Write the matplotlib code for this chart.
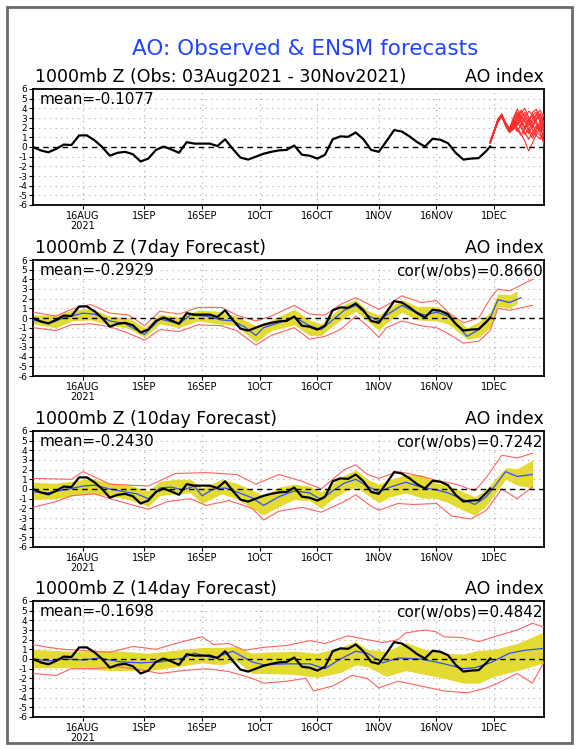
import matplotlib
matplotlib.use("Agg")
import matplotlib.pyplot as plt
import matplotlib.dates as mdates
from matplotlib.patches import Rectangle
from datetime import datetime, timedelta

START = datetime(2021, 8, 3)

# ---------------- data (day offsets from 03Aug2021) ----------------
obs_days = list(range(0, 120, 2)) + [119]
obs_vals = [0.0, -0.35, -0.55, -0.2, 0.25, 0.2, 1.2, 1.2, 0.7, 0.0,
            -0.9, -0.6, -0.5, -0.75, -1.5, -1.2, -0.3, 0.05, -0.25, -0.6,
            0.5, 0.35, 0.35, 0.35, 0.1, 0.8, -0.2, -1.1, -1.3, -1.0,
            -0.7, -0.5, -0.35, -0.3, 0.15, -0.8, -0.9, -1.2, -0.8, 0.8,
            1.1, 1.05, 1.5, 0.8, -0.3, -0.5, 0.6, 1.75, 1.6, 1.1,
            0.5, 0.05, 0.85, 0.75, 0.4, -0.6, -1.3, -1.2, -1.15, -0.4, 0.05]

ens_days = list(range(119, 134))
ens_members = [
    [0.5, 1.6, 2.7, 3.3, 2.3, 1.6, 2.4, 3.2, 3.8, 3.0, 2.2, 2.9, 3.4, 2.6, 1.8],
    [0.4, 1.5, 2.6, 3.2, 2.4, 1.7, 2.8, 3.6, 3.1, 2.0, 1.4, 2.2, 3.0, 3.3, 2.5],
    [0.6, 1.7, 2.8, 3.4, 2.2, 1.5, 2.0, 2.7, 3.5, 4.0, 3.1, 2.3, 1.6, 1.2, 0.6],
    [0.5, 1.5, 2.7, 3.2, 2.5, 1.9, 2.6, 2.0, 1.4, 0.6, -0.4, 0.4, 1.3, 2.0, 2.8],
    [0.4, 1.6, 2.9, 3.3, 2.3, 1.8, 3.0, 3.9, 3.3, 2.7, 1.9, 1.2, 1.9, 2.7, 3.4],
    [0.6, 1.6, 2.7, 3.1, 2.2, 1.6, 2.2, 1.6, 2.3, 3.0, 3.7, 3.4, 2.6, 1.9, 1.1],
    [0.5, 1.7, 2.8, 3.3, 2.4, 1.7, 1.9, 2.6, 2.0, 1.3, 1.8, 2.6, 3.3, 3.8, 3.1],
    [0.5, 1.5, 2.6, 3.2, 2.3, 1.6, 2.5, 3.3, 2.7, 2.0, 2.6, 3.6, 3.9, 3.0, 2.0],
    [0.4, 1.6, 2.8, 3.4, 2.5, 1.8, 2.2, 2.9, 2.3, 1.5, 0.8, 1.5, 2.2, 1.5, 0.3],
    [0.6, 1.6, 2.7, 3.3, 2.4, 1.7, 2.7, 2.2, 3.1, 3.6, 2.8, 2.0, 2.8, 3.5, 2.3],
    [0.5, 1.5, 2.8, 3.2, 2.2, 1.5, 1.8, 2.4, 3.2, 2.6, 1.6, 0.9, 1.7, 2.4, 1.5],
    [0.5, 1.7, 2.7, 3.3, 2.5, 1.9, 2.9, 3.5, 2.6, 1.9, 2.9, 3.2, 2.4, 1.6, 2.2],
    [0.4, 1.6, 2.6, 3.2, 2.3, 1.6, 2.1, 3.0, 3.6, 3.3, 2.5, 1.8, 1.2, 0.8, 1.6],
    [0.6, 1.6, 2.9, 3.4, 2.4, 1.8, 2.5, 1.8, 1.2, 1.9, 2.7, 3.3, 3.6, 2.9, 0.1],
]

# 7-day forecast
f7_mean_days = [0, 4, 8, 13, 16, 20, 24, 29, 33, 38, 41, 45, 49, 52, 55, 58, 60, 64, 68, 72,
                75, 78, 81, 84, 87, 90, 92, 96, 99, 102, 105, 108, 110, 113, 116, 119, 121, 124, 127]
f7_mean = [-0.2, -0.6, 0.0, 0.5, 0.4, -0.3, -0.6, -1.7, -0.1, -0.6, 0.3, 0.2, -0.2, -0.3, -0.9,
           -1.8, -1.0, -0.5, 0.1, -0.8, -1.2, -0.2, 0.8, 1.3, 0.3, -0.3, 0.3, 1.3, 0.7, 0.3,
           0.6, 0.2, -0.6, -1.9, -1.2, 0.0, 1.9, 1.6, 2.1]
f7_band_days = [0, 6, 10, 15, 20, 25, 29, 33, 38, 43, 48, 53, 58, 62, 68, 72, 75, 78, 81, 84,
                87, 90, 92, 96, 100, 105, 108, 113, 116, 119, 121, 124, 126]
f7_band_hi = [0.3, 0.3, 0.8, 1.0, 0.2, 0.0, -1.0, 0.4, 0.1, 0.8, 0.7, 0.2, -0.8, -0.2, 0.9, -0.2,
              -0.6, 0.4, 1.4, 1.9, 0.8, 0.3, 0.9, 1.9, 1.2, 1.2, 0.6, -1.0, -0.4, 0.6, 2.5, 2.4, 2.8]
f7_band_lo = [-0.6, -1.0, -0.3, -0.2, -0.7, -1.1, -2.0, -0.6, -1.0, -0.3, -0.6, -0.8, -2.5, -1.3,
              -0.7, -1.8, -1.8, -0.8, 0.0, 0.7, -0.3, -1.3, -0.5, 0.6, -0.2, -0.3, -0.6, -2.2,
              -2.0, -1.0, 1.2, 1.0, 1.5]
f7_red_days = [0, 6, 10, 15, 20, 25, 29, 33, 38, 43, 49, 53, 58, 62, 68, 72, 76, 80, 84, 87,
               90, 92, 96, 101, 105, 108, 112, 116, 119, 121, 124, 130]
f7_red_hi = [0.6, 0.2, 0.9, 1.4, 0.5, 0.3, -0.8, 0.7, 0.4, 1.1, 1.1, 0.3, -0.3, 0.2, 1.3, 0.4,
             0.3, 1.4, 2.1, 1.5, 0.9, 1.3, 2.3, 1.6, 1.8, 0.6, -0.5, 0.0, 2.0, 3.0, 2.8, 4.0]
f7_red_lo = [-1.0, -1.3, -0.7, -0.6, -0.9, -1.6, -2.3, -1.2, -1.4, -0.7, -0.8, -1.3, -2.8, -1.8,
             -1.0, -2.2, -1.9, -1.2, 0.2, -0.8, -2.0, -1.0, -0.3, -0.8, -1.0, -1.6, -2.6, -2.4,
             -1.3, 1.0, 0.8, 1.3]

# 10-day forecast
f10_mean_days = [0, 4, 8, 13, 16, 20, 24, 27, 30, 33, 36, 39, 42, 44, 47, 50, 53, 57, 60, 64,
                 68, 72, 75, 78, 81, 84, 87, 90, 93, 97, 101, 105, 108, 112, 115, 118, 120, 123, 126, 130]
f10_mean = [-0.3, -0.4, -0.1, 0.3, 0.4, 0.0, -0.3, -0.5, -1.0, 0.1, 0.2, -0.1, 0.3, -0.7, 0.0,
            0.1, -0.3, -0.9, -1.7, -0.8, -0.2, -0.4, -1.1, -0.2, 0.6, 1.0, 0.3, -0.3, 0.2, 0.7,
            0.2, -0.1, -0.4, -1.1, -1.6, -0.8, 0.2, 1.8, 1.3, 1.5]
f10_band_days = [0, 6, 10, 15, 20, 25, 30, 33, 37, 41, 44, 49, 53, 57, 60, 64, 68, 72, 75, 78,
                 81, 84, 87, 90, 93, 97, 101, 105, 108, 112, 115, 118, 120, 123, 126, 130]
f10_band_hi = [0.7, 0.6, 0.8, 1.1, 0.6, 0.4, -0.2, 0.8, 1.0, 1.0, 0.1, 1.0, 0.6, -0.1, -0.7, 0.2,
               0.5, 0.3, -0.3, 0.6, 1.4, 2.0, 1.0, 0.5, 1.0, 1.5, 1.5, 0.6, 0.4, -0.3, -0.8, 0.0,
               0.9, 2.2, 2.1, 3.0]
f10_band_lo = [-1.1, -1.0, -0.7, -0.5, -0.7, -1.1, -1.8, -0.7, -0.5, -0.4, -1.5, -0.5, -1.0, -2.0,
               -2.7, -1.8, -1.1, -1.2, -2.0, -1.0, -0.3, 0.2, -0.6, -1.4, -0.8, -0.4, -0.9, -1.0,
               -1.4, -2.2, -2.7, -1.7, -0.6, 1.0, 0.4, 0.1]
f10_red_hi_days = [0, 10, 13, 20, 30, 37, 45, 53, 58, 64, 70, 75, 81, 84, 87, 90, 95, 99, 105,
                   110, 115, 118, 122, 126, 130]
f10_red_hi = [1.1, 1.0, 1.8, 0.5, 0.3, 1.6, 1.7, 1.5, 0.5, 1.5, 0.8, 0.0, 2.0, 2.5, 1.5, 1.1,
              1.8, 1.5, 0.9, 0.5, -0.2, 1.2, 3.5, 3.2, 3.7]
f10_red_lo_days = [0, 6, 10, 16, 20, 30, 35, 41, 45, 51, 57, 60, 64, 70, 75, 81, 84, 87, 90, 95,
                   99, 105, 109, 114, 118, 122, 126, 130]
f10_red_lo = [-1.9, -1.3, -0.7, -0.5, -1.0, -2.1, -1.3, -1.0, -1.7, -1.2, -2.0, -3.2, -2.3, -1.9,
              -2.4, -1.3, -0.6, -1.5, -2.2, -1.5, -1.6, -1.5, -2.8, -3.1, -2.2, 0.0, -1.0, 0.2]

# 14-day forecast
f14_mean_days = [0, 4, 8, 13, 17, 23, 28, 33, 39, 42, 47, 52, 57, 60, 66, 72, 76, 80, 84, 87,
                 91, 95, 101, 107, 112, 115, 119, 124, 128, 133]
f14_mean = [0.0, -0.2, 0.0, -0.1, 0.1, -0.3, -0.4, -0.3, 0.1, 0.6, 0.1, 0.8, -0.3, -0.6, -0.5,
            -0.5, -1.0, 0.0, 0.8, 0.6, -0.4, 0.1, 0.0, -0.5, -1.0, -0.9, -0.4, 0.6, 0.9, 1.1]
f14_band_days = [0, 10, 20, 30, 39, 44, 49, 53, 57, 60, 68, 74, 80, 84, 87, 92, 97, 102, 107,
                 112, 116, 120, 126, 133]
f14_band_hi = [1.0, 0.8, 0.9, 0.6, 1.0, 1.2, 1.2, 1.3, 0.6, 0.7, 0.8, 0.6, 1.2, 1.8, 1.0, 0.8,
               1.7, 1.0, 0.6, 0.5, 0.9, 1.0, 1.6, 2.8]
f14_band_lo = [-0.9, -0.9, -1.2, -1.2, -0.7, -0.4, -0.6, -0.2, -1.5, -1.5, -1.6, -1.9, -1.4, -0.6,
               -0.8, -1.8, -1.2, -1.6, -2.0, -2.5, -2.5, -1.8, -1.2, -0.4]
f14_red_hi_days = [0, 4, 8, 12, 16, 20, 26, 32, 37, 44, 47, 51, 55, 60, 66, 72, 76, 82, 87, 91,
                   95, 97, 102, 105, 107, 112, 116, 120, 126, 130, 133]
f14_red_hi = [1.5, 1.2, 1.0, 0.9, 0.8, 0.7, 1.3, 1.0, 1.6, 2.3, 1.5, 1.6, 0.9, 1.2, 1.4, 1.9,
              1.6, 2.4, 2.0, 1.7, 2.0, 2.7, 3.0, 2.8, 2.3, 2.2, 1.8, 2.3, 3.0, 3.7, 3.3]
f14_red_lo_days = [0, 6, 10, 16, 22, 28, 33, 39, 45, 51, 57, 60, 66, 71, 73, 78, 83, 87, 90, 95,
                   101, 107, 113, 118, 121, 126, 130, 133]
f14_red_lo = [-1.5, -1.7, -1.0, -1.0, -0.8, -1.1, -1.5, -1.2, -1.0, -1.3, -2.0, -2.5, -2.3, -2.0,
              -3.3, -2.8, -1.7, -2.0, -3.0, -2.3, -2.8, -3.3, -3.5, -3.0, -2.5, -1.5, -2.5, -0.3]

subtitles = ["1000mb Z (Obs: 03Aug2021 - 30Nov2021)", "1000mb Z (7day Forecast)",
             "1000mb Z (10day Forecast)", "1000mb Z (14day Forecast)"]
means = ["mean=-0.1077", "mean=-0.2929", "mean=-0.2430", "mean=-0.1698"]
cors = [None, "cor(w/obs)=0.8660", "cor(w/obs)=0.7242", "cor(w/obs)=0.4842"]
tick_dates = [datetime(2021, 8, 16), datetime(2021, 9, 1), datetime(2021, 9, 16),
              datetime(2021, 10, 1), datetime(2021, 10, 16), datetime(2021, 11, 1),
              datetime(2021, 11, 16), datetime(2021, 12, 1)]
tick_labels = ["16AUG\n2021", "1SEP", "16SEP", "1OCT", "16OCT", "1NOV", "16NOV", "1DEC"]
yticks = list(range(-6, 7))

forecasts = [
    (f7_mean_days, f7_mean, f7_band_days, f7_band_hi, f7_band_lo,
     f7_red_days, f7_red_hi, f7_red_days, f7_red_lo),
    (f10_mean_days, f10_mean, f10_band_days, f10_band_hi, f10_band_lo,
     f10_red_hi_days, f10_red_hi, f10_red_lo_days, f10_red_lo),
    (f14_mean_days, f14_mean, f14_band_days, f14_band_hi, f14_band_lo,
     f14_red_hi_days, f14_red_hi, f14_red_lo_days, f14_red_lo),
]


def to_dates(days):
    return [START + timedelta(days=d) for d in days]


W, H = 579, 750
fig = plt.figure(figsize=(W / 100, H / 100), dpi=100)
fig.patches.append(Rectangle((7 / W, 1 - 743 / H), 565 / W, 736 / H, transform=fig.transFigure,
                             fill=False, edgecolor="#6a6a6a", linewidth=2))

fig.text(305 / W, 1 - 49 / H, "AO: Observed & ENSM forecasts", color="#2244ff",
         fontsize=15.5, ha="center", va="center")

left, right = 33, 544
tops = [89, 260, 431, 601]
ph = 116
for i, top in enumerate(tops):
    ax = fig.add_axes([left / W, 1 - (top + ph) / H, (right - left) / W, ph / H])
    ax.set_xlim(START, datetime(2021, 12, 14))
    ax.set_ylim(-6, 6)
    for yv in yticks:
        if yv != 0:
            ax.axhline(yv, color="#a8a8a8", lw=0.8, ls=(0, (1, 4)), zorder=1)
    for td in tick_dates:
        ax.axvline(td, color="#a8a8a8", lw=0.8, ls=(0, (1, 4)), zorder=1)

    if i == 0:
        for m in ens_members:
            ax.plot(to_dates(ens_days), m, color="#ff2a2a", lw=0.8, zorder=3)
    else:
        (md, mv, bd, bh, bl, rhd, rh, rld, rl) = forecasts[i - 1]
        ax.fill_between(to_dates(bd), bl, bh, color="#e3da32", lw=0, zorder=2)
        ax.plot(to_dates(rhd), rh, color="#ff6262", lw=0.8, zorder=3)
        ax.plot(to_dates(rld), rl, color="#ff6262", lw=0.8, zorder=3)
        ax.plot(to_dates(md), mv, color="#3050ff", lw=0.9, zorder=4)

    ax.axhline(0, color="black", lw=1.0, ls=(0, (4, 3)), zorder=5)
    ax.plot(to_dates(obs_days), obs_vals, color="black", lw=1.6, zorder=6)

    ax.set_yticks(yticks)
    ax.set_yticklabels([str(v) for v in yticks], fontsize=6.5)
    ax.set_xticks(tick_dates)
    ax.set_xticklabels(tick_labels, fontsize=7, linespacing=1.0)
    ax.tick_params(axis="both", direction="out", length=3, width=0.8, pad=1)
    for s in ax.spines.values():
        s.set_linewidth(1.3)

    ax.text(0.003, 1.025, subtitles[i], transform=ax.transAxes, fontsize=12.5,
            ha="left", va="bottom")
    ax.text(1.0, 1.025, "AO index", transform=ax.transAxes, fontsize=12.5,
            ha="right", va="bottom")
    ax.text(0.012, 0.97, means[i], transform=ax.transAxes, fontsize=11,
            ha="left", va="top", zorder=7)
    if cors[i]:
        ax.text(0.998, 0.97, cors[i], transform=ax.transAxes, fontsize=11,
                ha="right", va="top", zorder=7)

fig.savefig("out.png", dpi=100)
